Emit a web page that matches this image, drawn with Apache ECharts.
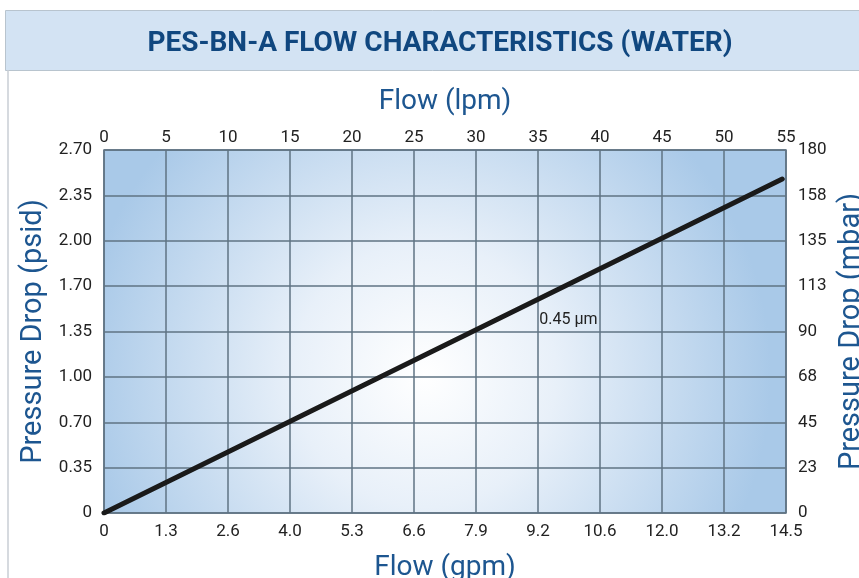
<!DOCTYPE html>
<html>
<head>
<meta charset="utf-8">
<script src="https://cdn.jsdelivr.net/npm/echarts@6/dist/echarts.min.js"></script>
<style>
  html, body { margin: 0; padding: 0; background: #fff; }
  #chart { width: 859px; height: 578px; }
</style>
</head>
<body>
<div id="chart"></div>
<script>
// tick labels
var gpmLabels = ['0', '1.3', '2.6', '4.0', '5.3', '6.6', '7.9', '9.2', '10.6', '12.0', '13.2', '14.5'];
var psidLabels = ['0', '0.35', '0.70', '1.00', '1.35', '1.70', '2.00', '2.35', '2.70'];
var mbarLabels = ['0', '23', '45', '68', '90', '113', '135', '158', '180'];

// series (flow in lpm, pressure drop in mbar)
var flowLpm = [0, 54.7];
var dropMbar = [0, 165.6];
var seriesName = '0.45 µm';

var narrow = '"Roboto", "Liberation Sans", sans-serif';
var tickColor = '#222';
var titleBlue = '#1d5690';
var gridCol = '#5f7383';

var myChart = echarts.init(document.getElementById('chart'));

var lineData = flowLpm.map(function (v, i) { return [v, dropMbar[i]]; });

var option = {
    animation: false,
    graphic: [
        { type: 'rect', left: 5, top: 10, shape: { width: 860, height: 60 },
          style: { fill: '#d3e3f3', stroke: '#b8c4ce', lineWidth: 1 }, z: -1 },
        { type: 'line', shape: { x1: 8, y1: 70, x2: 8, y2: 578 },
          style: { stroke: '#c8ced4', lineWidth: 1.5 } }
    ],
    title: {
        text: 'PES-BN-A FLOW CHARACTERISTICS (WATER)',
        left: 435, top: 25, textAlign: 'center',
        textStyle: { fontFamily: narrow, fontSize: 28, fontWeight: 'bold', color: '#10477f' }
    },
    grid: {
        left: 104, right: 73, top: 150, bottom: 65,
        outerBoundsMode: 'none',
        containLabel: false,
        show: true,
        borderColor: gridCol, borderWidth: 1.5,
        backgroundColor: {
            type: 'radial', x: 0.47, y: 0.62, r: 0.95,
            colorStops: [
                { offset: 0, color: '#ffffff' },
                { offset: 0.38, color: '#e8f0f9' },
                { offset: 1, color: '#a9c9e8' }
            ]
        }
    },
    xAxis: [
        {
            type: 'value', position: 'bottom', min: 0, max: gpmLabels.length - 1, interval: 1,
            name: 'Flow (gpm)', nameLocation: 'middle', nameGap: 41,
            nameTextStyle: { fontFamily: narrow, fontSize: 28, color: titleBlue },
            axisLine: { show: false }, axisTick: { show: false },
            splitLine: { show: true, lineStyle: { color: gridCol, width: 1.5 } },
            axisLabel: { fontFamily: narrow, fontSize: 17, color: tickColor, margin: 10,
                formatter: function (v) { return gpmLabels[Math.round(v)]; } }
        },
        {
            type: 'value', position: 'top', min: 0, max: 55, interval: 5,
            name: 'Flow (lpm)', nameLocation: 'middle', nameGap: 34,
            nameTextStyle: { fontFamily: narrow, fontSize: 28, color: titleBlue },
            axisLine: { show: false }, axisTick: { show: false },
            splitLine: { show: false },
            axisLabel: { fontFamily: narrow, fontSize: 17, color: tickColor, margin: 4 }
        }
    ],
    yAxis: [
        {
            type: 'value', position: 'left', min: 0, max: psidLabels.length - 1, interval: 1,
            name: 'Pressure Drop (psid)', nameLocation: 'middle', nameGap: 54,
            nameTextStyle: { fontFamily: narrow, fontSize: 29, color: titleBlue },
            axisLine: { show: false }, axisTick: { show: false },
            splitLine: { show: true, lineStyle: { color: gridCol, width: 1.5 } },
            axisLabel: { fontFamily: narrow, fontSize: 17, color: tickColor, margin: 12,
                formatter: function (v) { return psidLabels[Math.round(v)]; } }
        },
        {
            type: 'value', position: 'right', min: 0, max: 180, interval: 22.5,
            name: 'Pressure Drop (mbar)', nameLocation: 'middle', nameGap: 50, nameRotate: 90,
            nameTextStyle: { fontFamily: narrow, fontSize: 29, color: titleBlue },
            axisLine: { show: false }, axisTick: { show: false },
            splitLine: { show: false },
            axisLabel: { fontFamily: narrow, fontSize: 17, color: tickColor, margin: 12,
                formatter: function (v, i) { return mbarLabels[i]; } }
        }
    ],
    series: [
        {
            name: seriesName,
            type: 'line',
            xAxisIndex: 1, yAxisIndex: 1,
            data: lineData,
            symbol: 'none',
            lineStyle: { color: '#1a1a1a', width: 5, cap: 'round' },
            markPoint: {
                symbol: 'circle', symbolSize: 0,
                label: { show: true, position: 'right', distance: 0, formatter: seriesName,
                    fontFamily: narrow, fontSize: 16, color: '#222' },
                data: [{ coord: [35.1, 95.5] }]
            }
        }
    ]
};

option && myChart.setOption(option);
</script>
</body>
</html>
